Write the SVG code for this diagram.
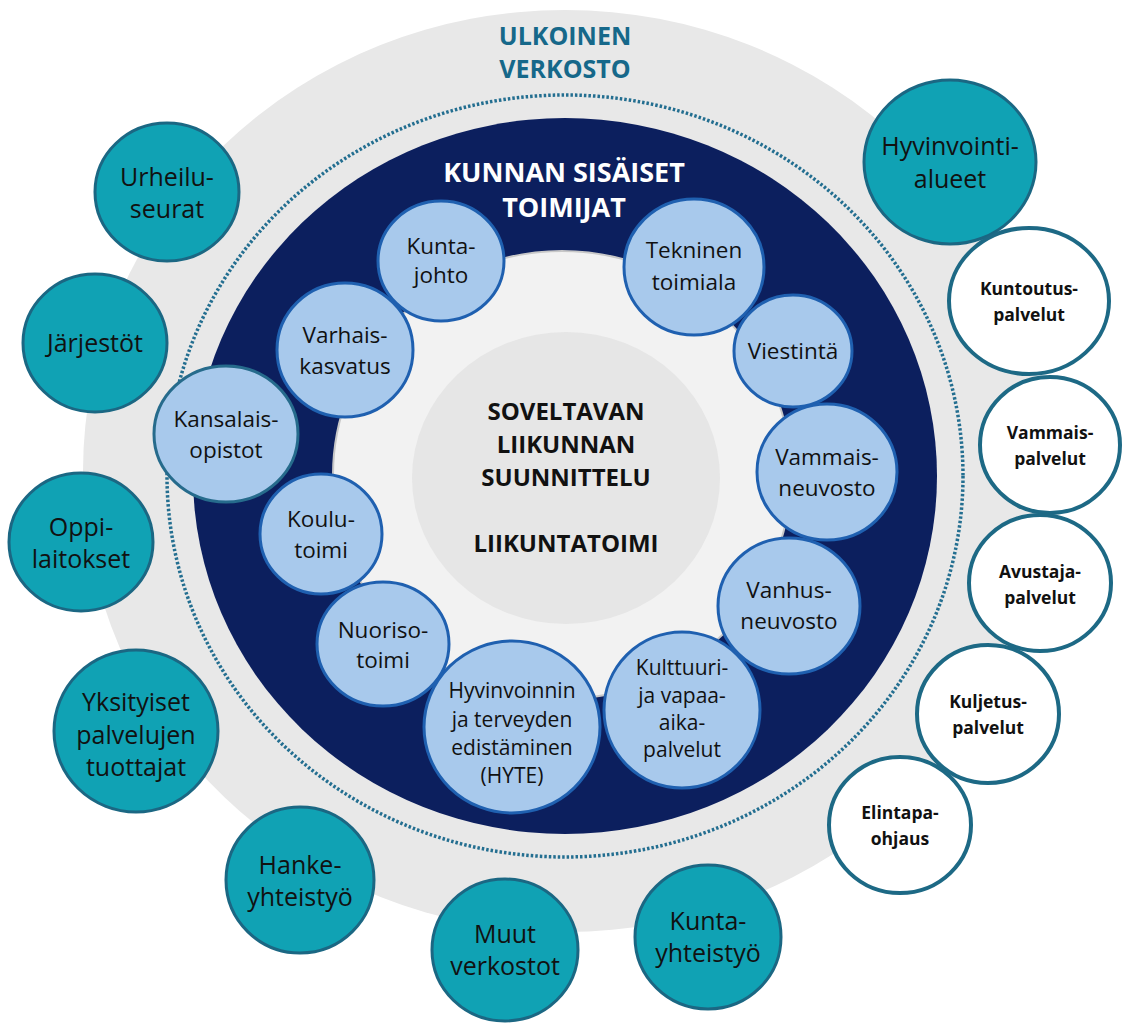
<svg xmlns="http://www.w3.org/2000/svg" width="1123" height="1023" viewBox="0 0 1123 1023">
<style>
text{font-family:"Open Sans","Noto Sans","Liberation Sans",sans-serif;text-anchor:middle}
.teal ellipse{fill:#10a2b4;stroke:#1b6783;stroke-width:3}
.teal text{font-size:25px;fill:#111}
.wht ellipse{fill:#fff;stroke:#1d6985;stroke-width:4}
.wht text{font-size:17.5px;font-weight:700;fill:#111}
.lb ellipse{fill:#a8c9ec;stroke:#1f60b0;stroke-width:3}
.lb text{font-size:22.5px;fill:#111}
.lb .sm{font-size:21px}
.ttl{font-weight:700}
</style>
<g id="background">
<ellipse cx="565" cy="471" rx="482" ry="461" fill="#e8e8e8"/>
<ellipse cx="565" cy="476" rx="398" ry="381" fill="none" stroke="#236e90" stroke-width="3.5" stroke-dasharray="2.5 2"/>
<ellipse cx="565" cy="476" rx="372" ry="358" fill="#0c1f5e"/>
<ellipse cx="562" cy="475" rx="229" ry="224" fill="#f2f2f2" stroke="#c8c8c8" stroke-width="2"/>
<ellipse cx="566" cy="478" rx="154" ry="146" fill="#e6e6e6"/>
</g>
<g id="titles">
<text class="ttl" x="565" y="45" font-size="25" fill="#16688a">ULKOINEN</text>
<text class="ttl" x="565" y="78" font-size="25" fill="#16688a">VERKOSTO</text>
<text class="ttl" x="564" y="182" font-size="27" fill="#fff">KUNNAN SISÄISET</text>
<text class="ttl" x="564" y="217" font-size="27" fill="#fff">TOIMIJAT</text>
</g>
<g id="center">
<text class="ttl" x="566" y="420" font-size="24" fill="#111">SOVELTAVAN</text>
<text class="ttl" x="566" y="453" font-size="24" fill="#111">LIIKUNNAN</text>
<text class="ttl" x="566" y="486" font-size="24" fill="#111">SUUNNITTELU</text>
<text class="ttl" x="566" y="552" font-size="24" fill="#111">LIIKUNTATOIMI</text>
</g>
<g id="connectors"></g>
<g id="inner-nodes" class="lb">
<g id="kuntajohto"><ellipse cx="441" cy="261" rx="63" ry="60"/><text x="441" y="254">Kunta-</text><text x="441" y="283">johto</text></g>
<g id="tekninen"><ellipse cx="694" cy="267" rx="70" ry="68"/><text x="694" y="258">Tekninen</text><text x="694" y="290">toimiala</text></g>
<g id="viestinta"><ellipse cx="793" cy="351" rx="59" ry="56"/><text x="793" y="359">Viestintä</text></g>
<g id="vammaisneuvosto"><ellipse cx="827" cy="472" rx="70" ry="68"/><text x="827" y="465">Vammais-</text><text x="827" y="496">neuvosto</text></g>
<g id="vanhusneuvosto"><ellipse cx="789" cy="606" rx="71" ry="68"/><text x="789" y="598">Vanhus-</text><text x="789" y="629">neuvosto</text></g>
<g id="kulttuuri"><ellipse cx="682" cy="710" rx="78" ry="78"/><text class="sm" x="682" y="675">Kulttuuri-</text><text class="sm" x="682" y="703">ja vapaa-</text><text class="sm" x="682" y="730">aika-</text><text class="sm" x="682" y="757">palvelut</text></g>
<g id="hyte"><ellipse cx="512" cy="727" rx="88" ry="86"/><text class="sm" x="512" y="698">Hyvinvoinnin</text><text class="sm" x="512" y="727">ja terveyden</text><text class="sm" x="512" y="755">edistäminen</text><text class="sm" x="512" y="783">(HYTE)</text></g>
<g id="nuorisotoimi"><ellipse cx="383" cy="644" rx="66" ry="62"/><text x="383" y="638">Nuoriso-</text><text x="383" y="668">toimi</text></g>
<g id="koulutoimi"><ellipse cx="321" cy="534" rx="61" ry="60"/><text x="321" y="527">Koulu-</text><text x="321" y="558">toimi</text></g>
<g id="kansalaisopistot"><ellipse cx="226" cy="434" rx="72" ry="68" style="stroke:#266b8c"/><text x="226" y="427">Kansalais-</text><text x="226" y="458">opistot</text></g>
<g id="varhaiskasvatus"><ellipse cx="345" cy="350" rx="68" ry="67"/><text x="345" y="343">Varhais-</text><text x="345" y="374">kasvatus</text></g>
</g>
<g id="outer-nodes" class="teal">
<g id="urheiluseurat"><ellipse cx="167" cy="192" rx="72" ry="69"/><text x="167" y="186">Urheilu-</text><text x="167" y="218">seurat</text></g>
<g id="jarjestot"><ellipse cx="95" cy="343" rx="72" ry="69"/><text x="95" y="352">Järjestöt</text></g>
<g id="oppilaitokset"><ellipse cx="81" cy="542" rx="72" ry="69"/><text x="81" y="536">Oppi-</text><text x="81" y="568">laitokset</text></g>
<g id="yksityiset"><ellipse cx="136" cy="731" rx="82" ry="81"/><text x="136" y="711">Yksityiset</text><text x="136" y="744">palvelujen</text><text x="136" y="776">tuottajat</text></g>
<g id="hanke"><ellipse cx="300" cy="880" rx="74" ry="73"/><text x="300" y="874">Hanke-</text><text x="300" y="906">yhteistyö</text></g>
<g id="muut"><ellipse cx="505" cy="950" rx="73" ry="71"/><text x="505" y="943">Muut</text><text x="505" y="975">verkostot</text></g>
<g id="kuntayhteistyo"><ellipse cx="708" cy="937" rx="73" ry="72"/><text x="708" y="930">Kunta-</text><text x="708" y="962">yhteistyö</text></g>
<g id="hyvinvointialueet"><ellipse cx="950" cy="162" rx="86" ry="82"/><text x="950" y="155">Hyvinvointi-</text><text x="950" y="188">alueet</text></g>
</g>
<g id="service-nodes" class="wht">
<g id="kuntoutus"><ellipse cx="1029" cy="301" rx="80" ry="73"/><text x="1029" y="295">Kuntoutus-</text><text x="1029" y="321">palvelut</text></g>
<g id="vammaispalvelut"><ellipse cx="1050" cy="445" rx="70" ry="68"/><text x="1050" y="439">Vammais-</text><text x="1050" y="465">palvelut</text></g>
<g id="avustaja"><ellipse cx="1040" cy="583" rx="71" ry="68"/><text x="1040" y="578">Avustaja-</text><text x="1040" y="604">palvelut</text></g>
<g id="kuljetus"><ellipse cx="988" cy="714" rx="71" ry="69"/><text x="988" y="708">Kuljetus-</text><text x="988" y="734">palvelut</text></g>
<g id="elintapa"><ellipse cx="900" cy="825" rx="71" ry="68"/><text x="900" y="819">Elintapa-</text><text x="900" y="845">ohjaus</text></g>
</g>
</svg>
